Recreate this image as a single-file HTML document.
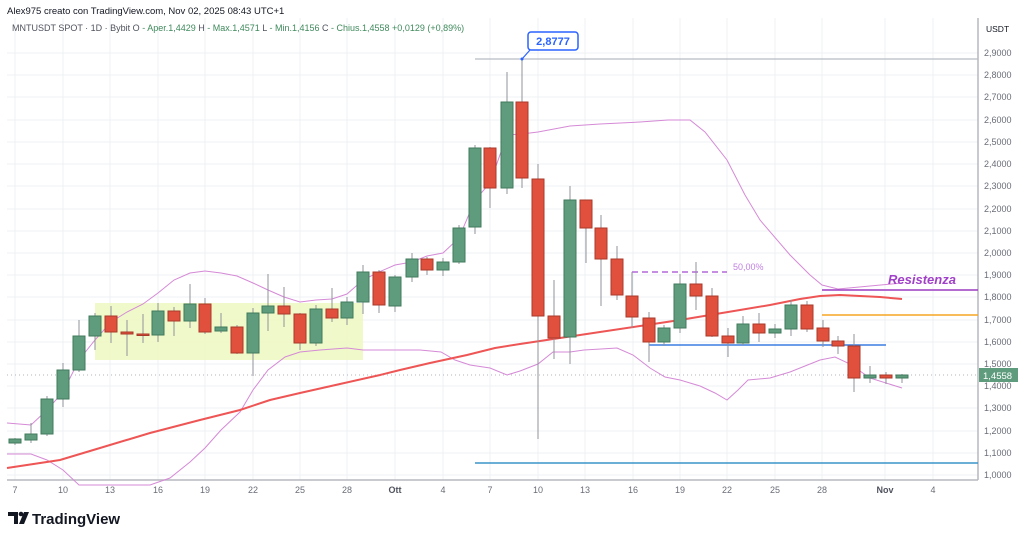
<!DOCTYPE html>
<html><head><meta charset="utf-8"><style>
body{margin:0;background:#fff;width:1024px;height:538px;overflow:hidden;font-family:"Liberation Sans",sans-serif}
svg{position:absolute;left:0;top:0}
</style></head><body>
<svg width="1024" height="538" viewBox="0 0 1024 538" xmlns="http://www.w3.org/2000/svg" font-family="Liberation Sans, sans-serif">
<rect width="1024" height="538" fill="#fff"/>
<g stroke="#eef0f3" stroke-width="1">
<line x1="7" y1="53" x2="978" y2="53"/><line x1="7" y1="75" x2="978" y2="75"/><line x1="7" y1="97" x2="978" y2="97"/><line x1="7" y1="120" x2="978" y2="120"/><line x1="7" y1="142" x2="978" y2="142"/><line x1="7" y1="164" x2="978" y2="164"/><line x1="7" y1="186" x2="978" y2="186"/><line x1="7" y1="209" x2="978" y2="209"/><line x1="7" y1="231" x2="978" y2="231"/><line x1="7" y1="253" x2="978" y2="253"/><line x1="7" y1="275" x2="978" y2="275"/><line x1="7" y1="297" x2="978" y2="297"/><line x1="7" y1="320" x2="978" y2="320"/><line x1="7" y1="342" x2="978" y2="342"/><line x1="7" y1="364" x2="978" y2="364"/><line x1="7" y1="386" x2="978" y2="386"/><line x1="7" y1="408" x2="978" y2="408"/><line x1="7" y1="431" x2="978" y2="431"/><line x1="7" y1="453" x2="978" y2="453"/><line x1="7" y1="475" x2="978" y2="475"/>
<line x1="15" y1="18" x2="15" y2="480"/><line x1="63" y1="18" x2="63" y2="480"/><line x1="110" y1="18" x2="110" y2="480"/><line x1="158" y1="18" x2="158" y2="480"/><line x1="205" y1="18" x2="205" y2="480"/><line x1="253" y1="18" x2="253" y2="480"/><line x1="300" y1="18" x2="300" y2="480"/><line x1="347" y1="18" x2="347" y2="480"/><line x1="395" y1="18" x2="395" y2="480"/><line x1="443" y1="18" x2="443" y2="480"/><line x1="490" y1="18" x2="490" y2="480"/><line x1="538" y1="18" x2="538" y2="480"/><line x1="585" y1="18" x2="585" y2="480"/><line x1="633" y1="18" x2="633" y2="480"/><line x1="680" y1="18" x2="680" y2="480"/><line x1="727" y1="18" x2="727" y2="480"/><line x1="775" y1="18" x2="775" y2="480"/><line x1="822" y1="18" x2="822" y2="480"/><line x1="885" y1="18" x2="885" y2="480"/><line x1="933" y1="18" x2="933" y2="480"/>
</g>
<line x1="7" y1="480" x2="978" y2="480" stroke="#b5b8bf" stroke-width="1.5"/>
<line x1="978" y1="18" x2="978" y2="480" stroke="#b5b8bf" stroke-width="1.5"/>
<rect x="95" y="303" width="268" height="57" fill="#eef8c4" opacity="0.9"/>
<line x1="7" y1="375" x2="978" y2="375" stroke="#b0b4bc" stroke-dasharray="1,3"/>
<line x1="475" y1="59" x2="978" y2="59" stroke="#b8bcc4" stroke-width="1.2"/>
<g fill="none" stroke="#d58ad6" stroke-width="1">
<polyline points="7,423 31,425 47,410 63,392 79,360 95,340 111,322 127,312 143,304 158,293 174,280 190,273 205,271 221,273 237,276 253,283 268,290 284,297 300,302 316,300 332,299 347,294 363,280 379,272 395,265 412,262 427,256 443,253 459,238 475,200 490,183 507,135 522,134 538,132 570,126 600,124 640,122 668,120 690,120 705,132 727,160 745,195 760,220 790,255 810,275 822,285 838,289 870,286 902,283"/>
<polyline points="7,454 31,454 47,460 63,470 79,485 150,485 170,478 190,462 205,448 221,430 240,412 253,390 268,370 285,357 300,352 320,350 347,348 363,350 380,350 400,350 420,350 441,352 455,360 470,365 490,368 507,375 520,371 538,364 553,352 570,352 584,350 601,349 617,348 633,355 650,368 665,377 680,380 700,386 715,393 727,400 738,390 748,380 770,378 790,372 805,366 820,360 835,357 850,364 870,378 902,388"/>
</g>
<polyline fill="none" stroke="#ee5555" stroke-width="2" points="7,468 60,460 100,448 150,433 200,420 240,410 270,400 300,393 340,384 380,375 400,370 430,363 467,355 495,348 520,344 560,338 600,332 640,326 680,320 710,315 740,310 770,305 800,299 820,296 840,295 860,296 880,297 902,299"/>
<line x1="632" y1="272" x2="727" y2="272" stroke="#b468d8" stroke-width="1.5" stroke-dasharray="6,4"/>
<text x="733" y="270" font-size="9" fill="#c080e0">50,00%</text>
<line x1="822" y1="290" x2="978" y2="290" stroke="#9c3cc0" stroke-width="1.5"/>
<text x="888" y="284" font-size="13" font-weight="bold" font-style="italic" fill="#a040c8">Resistenza</text>
<line x1="822" y1="315" x2="978" y2="315" stroke="#f5a623" stroke-width="1.5"/>
<line x1="649" y1="345" x2="886" y2="345" stroke="#3b7de0" stroke-width="1.5"/>
<line x1="475" y1="463" x2="978" y2="463" stroke="#3a93c8" stroke-width="1.5"/>
<g stroke-width="1">
<g stroke="#8f9399">
<line x1="15" y1="438" x2="15" y2="445"/><line x1="31" y1="423" x2="31" y2="443"/><line x1="47" y1="396" x2="47" y2="436"/><line x1="63" y1="363" x2="63" y2="407"/><line x1="79" y1="320" x2="79" y2="372"/><line x1="95" y1="313" x2="95" y2="350"/><line x1="111" y1="306" x2="111" y2="343"/><line x1="127" y1="320" x2="127" y2="356"/><line x1="143" y1="314" x2="143" y2="343"/><line x1="158" y1="303" x2="158" y2="342"/><line x1="174" y1="307" x2="174" y2="336"/><line x1="190" y1="284" x2="190" y2="328"/><line x1="205" y1="298" x2="205" y2="334"/><line x1="221" y1="313" x2="221" y2="333"/><line x1="237" y1="325" x2="237" y2="354"/><line x1="253" y1="308" x2="253" y2="376"/><line x1="268" y1="274" x2="268" y2="331"/><line x1="284" y1="287" x2="284" y2="327"/><line x1="300" y1="313" x2="300" y2="350"/><line x1="316" y1="305" x2="316" y2="346"/><line x1="332" y1="288" x2="332" y2="322"/><line x1="347" y1="297" x2="347" y2="325"/><line x1="363" y1="265" x2="363" y2="314"/><line x1="379" y1="270" x2="379" y2="313"/><line x1="395" y1="275" x2="395" y2="312"/><line x1="412" y1="253" x2="412" y2="282"/><line x1="427" y1="257" x2="427" y2="275"/><line x1="443" y1="258" x2="443" y2="276"/><line x1="459" y1="225" x2="459" y2="264"/><line x1="475" y1="145" x2="475" y2="234"/><line x1="490" y1="147" x2="490" y2="208"/><line x1="507" y1="72" x2="507" y2="194"/><line x1="522" y1="59" x2="522" y2="188"/><line x1="538" y1="164" x2="538" y2="439"/><line x1="554" y1="280" x2="554" y2="359"/><line x1="570" y1="186" x2="570" y2="364"/><line x1="586" y1="200" x2="586" y2="263"/><line x1="601" y1="215" x2="601" y2="306"/><line x1="617" y1="246" x2="617" y2="300"/><line x1="632" y1="272" x2="632" y2="328"/><line x1="649" y1="312" x2="649" y2="362"/><line x1="664" y1="325" x2="664" y2="346"/><line x1="680" y1="274" x2="680" y2="333"/><line x1="696" y1="262" x2="696" y2="310"/><line x1="712" y1="288" x2="712" y2="337"/><line x1="728" y1="328" x2="728" y2="357"/><line x1="743" y1="316" x2="743" y2="345"/><line x1="759" y1="313" x2="759" y2="342"/><line x1="775" y1="324" x2="775" y2="338"/><line x1="791" y1="300" x2="791" y2="336"/><line x1="807" y1="301" x2="807" y2="332"/><line x1="823" y1="320" x2="823" y2="347"/><line x1="838" y1="336" x2="838" y2="354"/><line x1="854" y1="334" x2="854" y2="392"/><line x1="870" y1="366" x2="870" y2="383"/><line x1="886" y1="372" x2="886" y2="384"/><line x1="902" y1="374" x2="902" y2="383"/>
</g>
<g fill="#5f9c7d" stroke="#3f7a5c">
<rect x="9" y="439" width="12" height="4"/><rect x="25" y="434" width="12" height="6"/><rect x="41" y="399" width="12" height="35"/><rect x="57" y="370" width="12" height="29"/><rect x="73" y="336" width="12" height="34"/><rect x="89" y="316" width="12" height="20"/><rect x="152" y="311" width="12" height="24"/><rect x="184" y="304" width="12" height="17"/><rect x="215" y="327" width="12" height="4"/><rect x="247" y="313" width="12" height="40"/><rect x="262" y="306" width="12" height="7"/><rect x="310" y="309" width="12" height="34"/><rect x="341" y="302" width="12" height="16"/><rect x="357" y="272" width="12" height="30"/><rect x="389" y="277" width="12" height="29"/><rect x="406" y="259" width="12" height="18"/><rect x="437" y="262" width="12" height="8"/><rect x="453" y="228" width="12" height="34"/><rect x="469" y="148" width="12" height="79"/><rect x="501" y="102" width="12" height="86"/><rect x="564" y="200" width="12" height="137"/><rect x="658" y="328" width="12" height="14"/><rect x="674" y="284" width="12" height="44"/><rect x="737" y="324" width="12" height="19"/><rect x="769" y="329" width="12" height="4"/><rect x="785" y="305" width="12" height="24"/><rect x="864" y="375" width="12" height="3"/><rect x="896" y="375" width="12" height="3"/>
</g>
<g fill="#e0503c" stroke="#a83a2a">
<rect x="105" y="316" width="12" height="16"/><rect x="121" y="332" width="12" height="2"/><rect x="137" y="334" width="12" height="1.5"/><rect x="168" y="311" width="12" height="10"/><rect x="199" y="304" width="12" height="28"/><rect x="231" y="327" width="12" height="26"/><rect x="278" y="306" width="12" height="8"/><rect x="294" y="314" width="12" height="29"/><rect x="326" y="309" width="12" height="9"/><rect x="373" y="272" width="12" height="33"/><rect x="421" y="259" width="12" height="11"/><rect x="484" y="148" width="12" height="40"/><rect x="516" y="102" width="12" height="76"/><rect x="532" y="179" width="12" height="137"/><rect x="548" y="316" width="12" height="22"/><rect x="580" y="200" width="12" height="28"/><rect x="595" y="228" width="12" height="31"/><rect x="611" y="259" width="12" height="36"/><rect x="626" y="296" width="12" height="21"/><rect x="643" y="318" width="12" height="24"/><rect x="690" y="284" width="12" height="12"/><rect x="706" y="296" width="12" height="40"/><rect x="722" y="336" width="12" height="7"/><rect x="753" y="324" width="12" height="9"/><rect x="801" y="305" width="12" height="24"/><rect x="817" y="328" width="12" height="13"/><rect x="832" y="341" width="12" height="5"/><rect x="848" y="346" width="12" height="32"/><rect x="880" y="375" width="12" height="3"/>
</g>
</g>
<path d="M522,59 L530,50" stroke="#2962ff" stroke-width="1.2"/>
<circle cx="522" cy="59" r="1.5" fill="#2962ff"/>
<rect x="528" y="32" width="50" height="18" rx="3" fill="#fff" stroke="#2962ff" stroke-width="1.5"/>
<text x="553" y="45" font-size="11" font-weight="bold" fill="#2962ff" text-anchor="middle">2,8777</text>
<text x="7" y="14" font-size="9.5" fill="#131722">Alex975 creato con TradingView.com, Nov 02, 2025 08:43 UTC+1</text>
<text x="12" y="31" font-size="9" fill="#50535e">MNTUSDT SPOT · 1D · Bybit  O <tspan fill="#3f8a5c">- Aper.1,4429</tspan>  H <tspan fill="#3f8a5c">- Max.1,4571</tspan>  L <tspan fill="#3f8a5c">- Min.1,4156</tspan>  C <tspan fill="#3f8a5c">- Chius.1,4558  +0,0129 (+0,89%)</tspan></text>
<g font-size="9" fill="#6a6d78">
<text x="986" y="32" fill="#131722" font-size="8.5">USDT</text>
<text x="984" y="56">2,9000</text><text x="984" y="78">2,8000</text><text x="984" y="100">2,7000</text><text x="984" y="123">2,6000</text><text x="984" y="145">2,5000</text><text x="984" y="167">2,4000</text><text x="984" y="189">2,3000</text><text x="984" y="212">2,2000</text><text x="984" y="234">2,1000</text><text x="984" y="256">2,0000</text><text x="984" y="278">1,9000</text><text x="984" y="300">1,8000</text><text x="984" y="323">1,7000</text><text x="984" y="345">1,6000</text><text x="984" y="367">1,5000</text><text x="984" y="389">1,4000</text><text x="984" y="411">1,3000</text><text x="984" y="434">1,2000</text><text x="984" y="456">1,1000</text><text x="984" y="478">1,0000</text>
</g>
<rect x="979" y="368" width="39" height="14" fill="#5f9c7d"/>
<text x="983" y="379" font-size="9.5" fill="#fff">1,4558</text>
<g font-size="9" fill="#6a6d78" text-anchor="middle">
<text x="15" y="493">7</text><text x="63" y="493">10</text><text x="110" y="493">13</text><text x="158" y="493">16</text><text x="205" y="493">19</text><text x="253" y="493">22</text><text x="300" y="493">25</text><text x="347" y="493">28</text><text x="395" y="493" font-weight="bold" fill="#50535e">Ott</text><text x="443" y="493">4</text><text x="490" y="493">7</text><text x="538" y="493">10</text><text x="585" y="493">13</text><text x="633" y="493">16</text><text x="680" y="493">19</text><text x="727" y="493">22</text><text x="775" y="493">25</text><text x="822" y="493">28</text><text x="885" y="493" font-weight="bold" fill="#50535e">Nov</text><text x="933" y="493">4</text>
</g>
<g fill="#131722">
<path d="M8,512 h10 v12 h-4 v-8 h-6z"/><circle cx="21" cy="514" r="2.3"/><path d="M24,512 h5 l-5,12 h-5z"/>
</g>
<text x="32" y="524" font-size="15" font-weight="bold" fill="#131722">TradingView</text>
</svg>
</body></html>
